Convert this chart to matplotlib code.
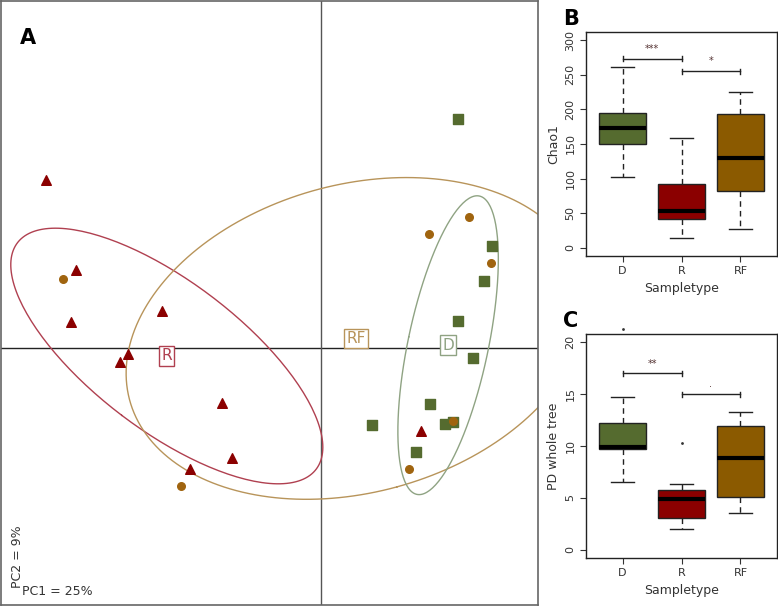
import numpy as np
import matplotlib
matplotlib.use("Agg")
import matplotlib.pyplot as plt

# PCA scores (PC1, PC2) per sample type
r_pc1 = [-5.50, -4.90, -3.18, -5.00, -3.86, -4.02, -1.98, -1.78, -2.62, 2.00]
r_pc2 = [3.36, 1.56, 0.74, 0.52, -0.12, -0.28, -1.10, -2.20, -2.42, -1.66]
rf_pc1 = [-5.16, -2.80, 2.16, 2.96, 3.40, 1.76, 2.64]
rf_pc2 = [1.38, -2.76, 2.28, 2.62, 1.70, -2.42, -1.46]
d_pc1 = [2.74, 3.42, 3.26, 2.74, 3.04, 2.18, 2.48, 1.90, 1.02, 2.64]
d_pc2 = [4.58, 2.04, 1.34, 0.54, -0.20, -1.12, -1.52, -2.08, -1.54, -1.48]

groups = ["D", "R", "RF"]
# box stats: whislo, q1, med, q3, whishi
chao1 = {"D": [102, 150, 173, 195, 262],
         "R": [14.5, 41, 53, 92, 158],
         "RF": [27, 81.5, 130, 194, 225]}
pd_tree = {"D": [6.5, 9.75, 9.95, 12.2, 14.7],
           "R": [2.0, 3.1, 4.9, 5.8, 6.33],
           "RF": [3.5, 5.04, 8.83, 11.9, 13.3]}
pd_fliers = {"D": [21.3], "R": [10.3], "RF": []}

green = "#556B2F"
red = "#8B0000"
brown = "#8B5A00"
orange_pt = "#A0640F"

fig = plt.figure(figsize=(7.78, 6.07), dpi=100)
W, H = 778, 607


def px_axes(x0, y0, x1, y1):
    return fig.add_axes([x0 / W, 1 - y1 / H, (x1 - x0) / W, (y1 - y0) / H])


# ---- panel A
ax = px_axes(1, 1, 538, 605)
ax.set_xlim(-6.4, 4.34)
ax.set_ylim(-5.14, 6.94)
ax.set_xticks([])
ax.set_yticks([])
for s in ax.spines.values():
    s.set_color("#666666")
    s.set_linewidth(1.2)
ax.axhline(0, color="#222222", lw=1)
ax.axvline(0, color="#555555", lw=1)


def ellipse(x, y, c=1.5):
    x = np.asarray(x); y = np.asarray(y)
    S = np.cov(np.vstack([x, y]), bias=True)
    vals, vecs = np.linalg.eigh(S)
    t = np.linspace(0, 2 * np.pi, 200)
    pts = vecs @ (np.sqrt(vals)[:, None] * np.vstack([np.cos(t), np.sin(t)]))
    return x.mean() + c * pts[0], y.mean() + c * pts[1], x.mean(), y.mean()


for px, py, lc, lab in [(r_pc1, r_pc2, "#B04050", "R"),
                        (rf_pc1, rf_pc2, "#B8945A", "RF"),
                        (d_pc1, d_pc2, "#8FA383", "D")]:
    ex, ey, mx, my = ellipse(px, py)
    ax.plot(ex, ey, color=lc, lw=1, clip_on=True)
    ax.text(mx, my, lab, ha="center", va="center", fontsize=11, color=lc,
            bbox=dict(boxstyle="square,pad=0.15", fc="white", ec=lc, lw=1), zorder=5)

ax.scatter(d_pc1, d_pc2, marker="s", s=42, color=green, zorder=4)
ax.scatter(r_pc1, r_pc2, marker="^", s=48, color=red, zorder=4)
ax.scatter(rf_pc1, rf_pc2, marker="o", s=30, color=orange_pt, zorder=4)

ax.text(0.035, 0.955, "A", transform=ax.transAxes, fontsize=15, fontweight="bold", va="top")
ax.text(0.018, 0.028, "PC2 = 9%", transform=ax.transAxes, rotation=90, fontsize=9,
        color="#333333", va="bottom", ha="left")
ax.text(0.04, 0.012, "PC1 = 25%", transform=ax.transAxes, fontsize=9,
        color="#333333", va="bottom", ha="left")


# ---- boxplots
def boxpanel(ax, stats, fliers, ylim, yticks, ylabel, brackets):
    bxp = []
    for g in groups:
        lo, q1, med, q3, hi = stats[g]
        bxp.append(dict(whislo=lo, q1=q1, med=med, q3=q3, whishi=hi, fliers=fliers.get(g, [])))
    cols = [green, red, brown]
    b = ax.bxp(bxp, positions=[1, 2, 3], widths=0.8, patch_artist=True,
               showfliers=True,
               boxprops=dict(lw=1, edgecolor="#222222"),
               medianprops=dict(color="black", lw=3),
               whiskerprops=dict(color="#222222", lw=1, ls=(0, (4, 3))),
               capprops=dict(color="#222222", lw=1),
               flierprops=dict(marker=".", ms=2, color="#333333", mec="#333333"),
               capwidths=0.4)
    for p, c in zip(b["boxes"], cols):
        p.set_facecolor(c)
    for f in b["fliers"]:
        f.set_clip_on(False)
    ax.set_xlim(0.38, 3.62)
    r = ylim[1] - ylim[0]
    ax.set_ylim(ylim[0] - 0.04 * r, ylim[1] + 0.04 * r)
    ax.set_yticks(yticks)
    ax.set_yticklabels([str(v) for v in yticks], rotation=90, va="center")
    ax.set_xticks([1, 2, 3])
    ax.set_xticklabels(groups)
    ax.tick_params(labelsize=8, colors="#333333", length=4)
    ax.set_xlabel("Sampletype", fontsize=9, color="#333333")
    ax.set_ylabel(ylabel, fontsize=9, color="#333333")
    for s in ax.spines.values():
        s.set_linewidth(1)
        s.set_color("#222222")
    for x0, x1, y, lab, ty in brackets:
        h = 0.012 * r
        ax.plot([x0, x1], [y, y], color="#222222", lw=1)
        ax.plot([x0, x0], [y - h, y + h], color="#222222", lw=1)
        ax.plot([x1, x1], [y - h, y + h], color="#222222", lw=1)
        ax.text((x0 + x1) / 2, ty, lab, ha="center", va="center", fontsize=7, color="#553333")


axb = px_axes(586, 32, 777, 256)
boxpanel(axb, chao1, {}, (0, 300), [0, 50, 100, 150, 200, 250, 300], "Chao1",
         [(1, 2, 273, "***", 287), (2, 3, 255, "*", 270)])
fig.text(563 / W, 1 - 25 / H, "B", fontsize=15, fontweight="bold")

axc = px_axes(586, 334, 777, 558)
boxpanel(axc, pd_tree, pd_fliers, (0, 20), [0, 5, 10, 15, 20], "PD whole tree",
         [(1, 2, 17, "**", 17.9), (2, 3, 15, ".", 16.0)])
fig.text(563 / W, 1 - 327 / H, "C", fontsize=15, fontweight="bold")

fig.savefig("out.png", dpi=100)
